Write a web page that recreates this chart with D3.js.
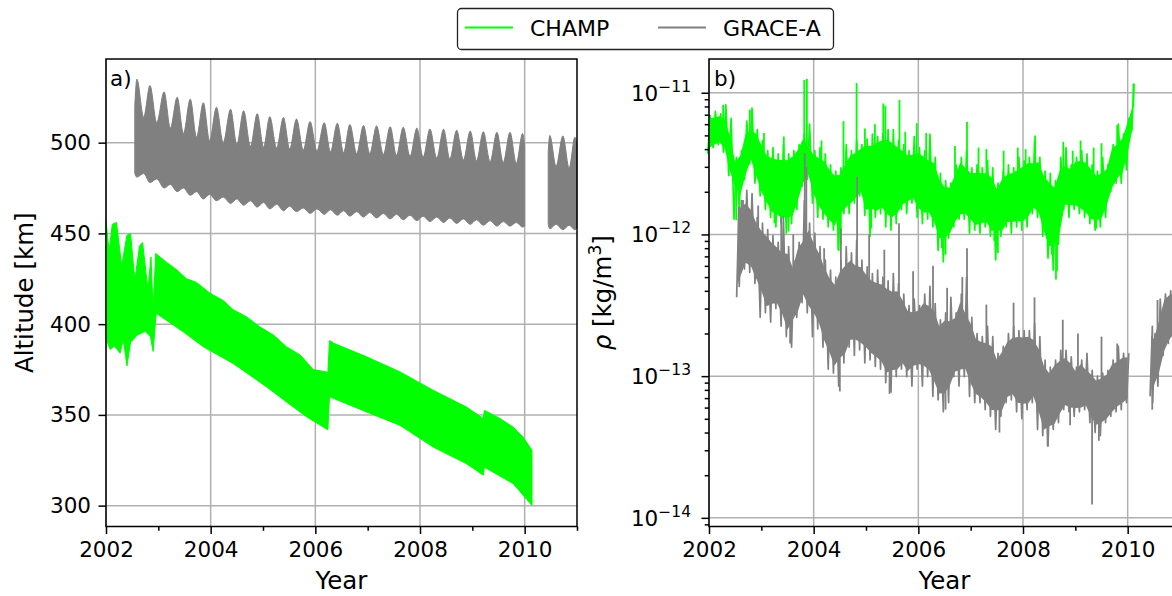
<!DOCTYPE html>
<html>
<head>
<meta charset="utf-8">
<script src="https://cdn.jsdelivr.net/npm/d3@7"></script>
<style>
  html, body { margin: 0; padding: 0; background: #fff; }
  svg { display: block; font-family: "DejaVu Sans", "Liberation Sans", sans-serif; }
</style>
</head>
<body>
<svg id="chart" width="1172" height="596"></svg>
<script>
// ---------------- Series names and colours ----------------
const seriesNames = ["CHAMP", "GRACE-A"];
const seriesColors = ["#00ff00", "#808080"];

// ---------------- Panel a) orbital altitude [km] ----------------
// CHAMP altitude envelope (upper and lower edge of the daily oscillation band)
const champAltUpperYear = [2002.00, 2002.06, 2002.12, 2002.20, 2002.30, 2002.40, 2002.47, 2002.55, 2002.64, 2002.70,
  2002.80, 2002.86, 2002.90, 2002.95, 2003.16, 2003.35, 2003.54, 2003.73, 2003.99, 2004.24, 2004.43, 2004.69,
  2004.94, 2005.20, 2005.45, 2005.71, 2005.96, 2006.24, 2006.27, 2006.35, 2006.98, 2007.62, 2008.25, 2008.89,
  2009.21, 2009.23, 2009.53, 2009.78, 2009.97, 2010.14];
const champAltUpper = [457, 440, 455, 456, 432, 449, 450, 424, 443, 445,
  419, 437, 408, 439, 434, 430, 425, 423, 417, 413, 408, 404,
  398.5, 394, 387.5, 383, 375, 373.5, 391, 389.5, 382, 373.7, 363.6, 354.3,
  348, 352.5, 348, 343.3, 337.8, 330.5];
const champAltLowerYear = [2002.00, 2002.08, 2002.16, 2002.27, 2002.33, 2002.40, 2002.47, 2002.60, 2002.75, 2002.85,
  2002.90, 2002.96, 2003.16, 2003.48, 2003.86, 2004.43, 2005.07, 2005.45, 2005.84, 2006.24, 2006.27, 2006.98,
  2007.62, 2008.25, 2008.89, 2009.21, 2009.23, 2009.78, 2010.14];
const champAltLower = [392, 386, 388, 384, 392, 377, 390, 394, 396, 393,
  385, 406, 402, 395.7, 387.5, 378.3, 365.4, 357.1, 348.8, 341.8, 360, 351.6,
  344.2, 332.3, 323.1, 316.7, 321.2, 312.1, 300.1];

// GRACE-A altitude: crest / trough of the ~93-day beating pattern and lower edge
const graceAltYear = [2002.55, 2002.59, 2002.72, 2002.84, 2002.97, 2003.11, 2003.23, 2003.36, 2003.48, 2003.61,
  2003.73, 2003.86, 2003.98, 2004.11, 2004.24, 2004.38, 2004.50, 2004.63, 2004.76, 2004.89, 2005.01, 2005.13,
  2005.26, 2005.39, 2005.51, 2005.64, 2005.77, 2005.90, 2006.03, 2006.17, 2006.29, 2006.42, 2006.54, 2006.66,
  2006.79, 2006.92, 2007.04, 2007.17, 2007.30, 2007.43, 2007.55, 2007.68, 2007.81, 2007.94, 2008.06, 2008.19,
  2008.32, 2008.45, 2008.57, 2008.70, 2008.83, 2008.96, 2009.08, 2009.21, 2009.34, 2009.47, 2009.59, 2009.72,
  2009.84, 2009.96, 2010.00,
  2010.45, 2010.48, 2010.60, 2010.73, 2010.85, 2010.96, 2011.00];
const graceAltUpper = [520, 535, 514, 531.5, 511, 528, 508, 525, 505, 524,
  503, 522, 501, 519.5, 500, 518.4, 499, 517.6, 498, 516, 497.5, 514.3,
  497, 513.8, 496.5, 513, 496, 511.6, 495.5, 511, 495, 510.7, 494.5, 510,
  494, 509.4, 494, 509.2, 493.5, 508.8, 493, 508.5, 492.5, 508, 492, 507.5,
  491.5, 507.4, 491, 506.8, 490.5, 506.4, 490, 506, 489.5, 505.7, 489, 505.7,
  488.5, 505, 498,
  495, 504, 487, 503.7, 486, 503, 500];
const graceAltLower = [483, 481, 483, 478, 480, 475, 477, 473, 475, 471,
  473, 469, 471.5, 468, 470, 466.5, 469, 465.5, 468, 464.5, 467, 463.5,
  466, 462.5, 465, 462, 464, 461, 463.5, 460.5, 463, 460, 462.5, 459.5,
  462, 459, 461.5, 458.5, 461, 458, 460.5, 457.5, 460, 457, 459.5, 456.5,
  459, 456, 458.5, 455.5, 458, 455, 457.5, 454.5, 457, 454, 456.5, 454,
  456, 453.5, 454,
  455, 452.5, 455, 452, 454.5, 452, 453];

// ---------------- Panel b) neutral density [10^-12 kg/m^3] ----------------
// CHAMP: highest / lowest value in each 0.1-year bin, starting 2002.0
const champRhoStart = 2002.0, champRhoStep = 0.1;
const champRhoHigh = [6.9, 7.4, 7.1, 8.2, 6.6, 3.5, 3.9, 6.3, 7.8, 5.5,
  4.6, 3.9, 4.1, 3.7, 4.3, 3.7, 3.9, 4.3, 5.1, 6.0,
  3.9, 4.1, 3.7, 3.1, 2.8, 2.95, 4.3, 3.9, 4.6, 4.3,
  4.7, 5.1, 4.9, 5.1, 5.5, 5.5, 4.6, 4.3, 3.9, 4.9,
  4.1, 3.9, 5.1, 3.5, 2.7, 2.4, 2.3, 3.1, 3.5, 3.9,
  2.95, 3.1, 2.95, 3.3, 2.95, 2.3, 2.8, 3.1, 2.95, 3.5,
  3.3, 3.5, 4.6, 3.5, 2.8, 2.7, 2.4, 3.5, 4.1, 3.1,
  3.5, 3.9, 3.7, 3.1, 2.8, 3.5, 3.1, 4.3, 6.0, 5.1,
  6.6, 11.6];
const champRhoLow = [3.7, 4.1, 4.3, 3.8, 2.6, 1.28, 1.5, 2.45, 3.15, 2.3,
  1.87, 1.5, 1.32, 1.13, 1.19, 1.02, 1.19, 1.5, 2.17, 2.45,
  1.66, 1.32, 1.28, 1.13, 1.07, 0.77, 1.4, 1.4, 1.66, 1.87,
  1.36, 0.97, 1.32, 1.4, 1.13, 1.07, 1.19, 1.5, 1.4, 1.66,
  1.32, 1.19, 1.28, 1.13, 0.77, 0.64, 0.94, 1.13, 1.28, 1.28,
  1.02, 1.07, 1.02, 1.13, 0.97, 0.66, 0.97, 1.13, 1.02, 1.13,
  1.07, 1.13, 1.4, 1.32, 0.97, 0.68, 0.56, 0.85, 1.5, 1.32,
  1.5, 1.4, 1.32, 1.19, 1.07, 1.13, 1.32, 2.0, 2.3, 2.3,
  2.85, 5.4];
// CHAMP isolated excursions: [year, density]
const champRhoSpikes = [[2002.27, 8.2], [2002.78, 7.6], [2003.05, 5.2], [2003.43, 4.9], [2003.82, 12.3],
  [2003.87, 12.5], [2004.15, 4.6], [2004.57, 6.3], [2004.82, 11.7], [2004.98, 5.6], [2005.17, 6.0],
  [2005.33, 8.4], [2005.37, 8.1], [2005.64, 8.9], [2005.75, 5.3], [2005.97, 6.1], [2006.15, 5.2],
  [2006.70, 4.2], [2006.93, 6.25], [2007.15, 4.1], [2007.30, 4.0], [2007.63, 3.9], [2007.90, 4.1],
  [2008.05, 4.0], [2008.23, 5.0], [2008.77, 4.5], [2008.95, 3.9], [2009.10, 4.6], [2009.35, 4.1],
  [2009.50, 4.4], [2009.80, 5.9], [2010.11, 11.6],
  [2002.52, 1.26], [2003.25, 1.2], [2003.52, 1.05], [2004.47, 0.78], [2004.52, 0.85], [2005.10, 1.1],
  [2006.45, 0.8], [2006.52, 0.72], [2007.45, 0.9], [2007.52, 0.74], [2008.55, 0.72], [2008.63, 0.48],
  [2008.65, 0.55], [2009.40, 1.1]];

// GRACE-A: highest / lowest value in each bin, with the bin's year
const graceRhoYear = [2002.55, 2002.6, 2002.7, 2002.8, 2002.9, 2003.0, 2003.1, 2003.2, 2003.3, 2003.4,
  2003.5, 2003.6, 2003.7, 2003.8, 2003.9, 2004.0, 2004.1, 2004.2, 2004.3, 2004.4,
  2004.5, 2004.6, 2004.7, 2004.8, 2004.9, 2005.0, 2005.1, 2005.2, 2005.3, 2005.4,
  2005.5, 2005.6, 2005.7, 2005.8, 2005.9, 2006.0, 2006.1, 2006.2, 2006.3, 2006.4,
  2006.5, 2006.6, 2006.7, 2006.8, 2006.9, 2007.0, 2007.1, 2007.2, 2007.3, 2007.4,
  2007.5, 2007.6, 2007.7, 2007.8, 2007.9, 2008.0, 2008.1, 2008.2, 2008.3, 2008.4,
  2008.5, 2008.6, 2008.7, 2008.8, 2008.9, 2009.0, 2009.1, 2009.2, 2009.3, 2009.4,
  2009.5, 2009.6, 2009.7, 2009.8, 2009.9, 2010.0,
  2010.45, 2010.5, 2010.6, 2010.7, 2010.8, 2010.9, 2011.0];
const graceRhoHigh = [1.56, 1.73, 2.05, 1.94, 1.32, 1.2, 1.08, 0.98, 0.88, 1.32,
  0.82, 0.65, 0.88, 1.73, 1.2, 1.02, 0.82, 0.66, 0.56, 0.5,
  0.66, 0.82, 0.74, 0.91, 0.66, 0.59, 0.53, 0.56, 0.5, 0.47,
  0.53, 0.45, 0.38, 0.315, 0.35, 0.315, 0.38, 0.43, 0.325, 0.25,
  0.28, 0.36, 0.28, 0.38, 0.5, 0.26, 0.2, 0.19, 0.225, 0.19,
  0.145, 0.162, 0.2, 0.225, 0.21, 0.21, 0.21, 0.236, 0.19, 0.13,
  0.116, 0.13, 0.152, 0.152, 0.137, 0.116, 0.13, 0.145, 0.11, 0.1,
  0.105, 0.11, 0.13, 0.162, 0.145, 0.145,
  0.225, 0.2, 0.35, 0.38, 0.4, 0.42, 0.42];
const graceRhoLow = [0.36, 0.43, 0.57, 0.54, 0.45, 0.26, 0.28, 0.24, 0.30, 0.225,
  0.19, 0.16, 0.26, 0.33, 0.28, 0.19, 0.215, 0.16, 0.112, 0.105,
  0.085, 0.124, 0.16, 0.14, 0.153, 0.124, 0.13, 0.117, 0.112, 0.09,
  0.077, 0.099, 0.112, 0.099, 0.085, 0.112, 0.085, 0.099, 0.072, 0.068,
  0.056, 0.065, 0.099, 0.085, 0.099, 0.072, 0.065, 0.065, 0.058, 0.052,
  0.042, 0.052, 0.065, 0.068, 0.056, 0.05, 0.058, 0.065, 0.042, 0.038,
  0.032, 0.042, 0.047, 0.058, 0.056, 0.052, 0.056, 0.058, 0.047, 0.04,
  0.038, 0.047, 0.052, 0.056, 0.058, 0.065,
  0.072, 0.065, 0.085, 0.14, 0.17, 0.19, 0.19];
const graceRhoSpikes = [[2002.65, 1.75], [2002.94, 1.6], [2003.38, 1.33], [2003.61, 1.0], [2003.83, 3.75],
  [2003.86, 3.0], [2004.20, 0.8], [2004.52, 1.1], [2004.83, 2.55], [2005.06, 1.0], [2005.35, 0.78],
  [2005.63, 1.2], [2005.90, 0.55], [2006.28, 0.6], [2006.55, 0.42], [2006.84, 0.5], [2006.93, 0.8],
  [2007.30, 0.32], [2007.82, 0.33], [2008.22, 0.36], [2008.76, 0.25], [2009.05, 0.2], [2009.50, 0.19],
  [2009.80, 0.17], [2010.57, 0.345],
  [2003.55, 0.17], [2004.50, 0.078], [2005.45, 0.075], [2006.52, 0.058], [2007.55, 0.04], [2008.47, 0.032],
  [2008.90, 0.045], [2009.32, 0.0124], [2009.45, 0.035], [2010.47, 0.058]];
const rhoUnit = 1e-12; // density arrays are in units of 10^-12 kg/m^3

// ---------------- Axis ticks ----------------
const yearTicks = [2002, 2004, 2006, 2008, 2010];
const yearMinorTicks = [2003, 2005, 2007, 2009, 2011];
const altTicks = [300, 350, 400, 450, 500];
const rhoExponents = [-14, -13, -12, -11];

// ---------------- Layout ----------------
const svg = d3.select("#chart");
const plotTop = 59, plotBottom = 526.5;
const fontTick = 21.5, fontLabel = 24.5, fontLegend = 22;
const gridColor = "#b0b0b0";

const xA = d3.scaleLinear().domain([2002, 2011]).range([106, 577]);
const yA = d3.scaleLinear().domain([288.5, 546.1]).range([plotBottom, plotTop]);
const xB = d3.scaleLinear().domain([2002, 2011]).range([709, 1180]);
const yB = d3.scaleLog().domain([Math.pow(10, -14.061), Math.pow(10, -10.762)]).range([plotBottom, plotTop]);

function splitSegments(points, maxGap) {
  const segs = [];
  let cur = [];
  points.forEach((p, i) => {
    if (i > 0 && p.t - points[i - 1].t > maxGap) { segs.push(cur); cur = []; }
    cur.push(p);
  });
  if (cur.length) segs.push(cur);
  return segs;
}

function drawGrid(g, x, y, yVals) {
  g.selectAll(".vgrid").data(yearTicks).join("line")
    .attr("x1", d => x(d)).attr("x2", d => x(d))
    .attr("y1", plotTop).attr("y2", plotBottom)
    .attr("stroke", gridColor).attr("stroke-width", 1.5);
  g.selectAll(".hgrid").data(yVals).join("line")
    .attr("x1", x.range()[0]).attr("x2", x.range()[1])
    .attr("y1", d => y(d)).attr("y2", d => y(d))
    .attr("stroke", gridColor).attr("stroke-width", 1.5);
}

function styleAxis(g) {
  g.select(".domain").remove();
  g.attr("font-family", null).attr("font-size", null);
  g.selectAll("line").attr("stroke", "#000").attr("stroke-width", 1.5);
  g.selectAll("text").attr("fill", "#000").attr("font-size", fontTick);
}

function drawXAxis(g, x) {
  const ax = g.append("g").attr("transform", `translate(0,${plotBottom})`)
    .call(d3.axisBottom(x).tickValues(yearTicks).tickSize(7.5).tickPadding(7.5).tickFormat(d3.format("d")));
  styleAxis(ax);
  const mi = g.append("g").attr("transform", `translate(0,${plotBottom})`)
    .call(d3.axisBottom(x).tickValues(yearMinorTicks).tickSize(4.3).tickFormat(""));
  styleAxis(mi);
  g.append("text").attr("x", (x.range()[0] + x.range()[1]) / 2).attr("y", 589)
    .attr("text-anchor", "middle").attr("font-size", fontLabel).text("Year");
}

function drawFrame(g, x) {
  g.append("rect").attr("x", x.range()[0]).attr("y", plotTop)
    .attr("width", x.range()[1] - x.range()[0]).attr("height", plotBottom - plotTop)
    .attr("fill", "none").attr("stroke", "#000").attr("stroke-width", 1.5);
}

// ================= Panel a) =================
const gA = svg.append("g");
drawGrid(gA, xA, yA, altTicks);

// CHAMP altitude band
{
  const line = d3.line().x(d => xA(d[0])).y(d => yA(d[1]));
  const up = champAltUpperYear.map((t, i) => [t, champAltUpper[i]]);
  const lo = champAltLowerYear.map((t, i) => [t, champAltLower[i]]).reverse();
  const path = line(up) + "L" + line(lo).slice(1) + "Z";
  gA.append("path").attr("d", path)
    .attr("fill", seriesColors[0]).attr("stroke", seriesColors[0]).attr("stroke-width", 1);
}
// GRACE-A altitude band
{
  const pts = graceAltYear.map((t, i) => ({ t, hi: graceAltUpper[i], lo: graceAltLower[i] }));
  const area = d3.area().curve(d3.curveMonotoneX)
    .x(d => xA(d.t)).y0(d => yA(d.lo)).y1(d => yA(d.hi));
  splitSegments(pts, 0.3).forEach(seg => {
    gA.append("path").attr("d", area(seg))
      .attr("fill", seriesColors[1]).attr("stroke", seriesColors[1]).attr("stroke-width", 1);
  });
}

// left axis
{
  const ax = gA.append("g").attr("transform", `translate(${xA.range()[0]},0)`)
    .call(d3.axisLeft(yA).tickValues(altTicks).tickSize(7.5).tickPadding(7.5).tickFormat(d3.format("d")));
  styleAxis(ax);
  gA.append("text").attr("transform", `translate(33,${(plotTop + plotBottom) / 2}) rotate(-90)`)
    .attr("text-anchor", "middle").attr("font-size", fontLabel).text("Altitude [km]");
}
drawXAxis(gA, xA);
drawFrame(gA, xA);
gA.append("text").attr("x", 110).attr("y", 86).attr("font-size", fontTick).text("a)");

// ================= Panel b) =================
const gB = svg.append("g");
drawGrid(gB, xB, yB, rhoExponents.map(e => Math.pow(10, e)));

// Dense daily series rendered by min/max decimation: a solid core slightly inside
// each bin's extremes, plus a zig-zag trace that visits each bin's low and high.
function drawRho(times, hi, lo, spikes, color) {
  const pts = times.map((t, i) => ({ t, hi: hi[i] * rhoUnit, lo: lo[i] * rhoUnit }));
  const halfBin = 0.022;
  splitSegments(pts, 0.3).forEach(seg => {
    const core = seg.map((d, i) => {
      const p = seg[Math.max(0, i - 1)], n = seg[Math.min(seg.length - 1, i + 1)];
      const H = Math.log10(d.hi), L = Math.log10(d.lo);
      const nH = (Math.log10(p.hi) + Math.log10(n.hi)) / 2;
      const nL = (Math.log10(p.lo) + Math.log10(n.lo)) / 2;
      let ch = Math.min(H, nH) - 0.08 * (H - L);
      let cl = Math.max(L, nL) + 0.08 * (H - L);
      if (cl > ch) { const m = (cl + ch) / 2; cl = m; ch = m; }
      return { t: d.t, hi: Math.pow(10, ch), lo: Math.pow(10, cl) };
    });
    const area = d3.area().x(d => xB(d.t)).y0(d => yB(d.lo)).y1(d => yB(d.hi));
    gB.append("path").attr("d", area(core)).attr("fill", color);

    const trace = [];
    seg.forEach(d => {
      trace.push([d.t - halfBin, d.lo]);
      trace.push([d.t + halfBin, d.hi]);
    });
    const line = d3.line().x(d => xB(d[0])).y(d => yB(d[1]));
    gB.append("path").attr("d", line(trace))
      .attr("fill", "none").attr("stroke", color).attr("stroke-width", 1.7)
      .attr("stroke-linejoin", "round");
  });
  // excursions drawn from the band centre out to the recorded value
  const mid = t => {
    const i = d3.bisector(d => d.t).left(pts, t);
    const a = pts[Math.max(0, i - 1)], b = pts[Math.min(pts.length - 1, i)];
    const f = b.t === a.t ? 0 : (t - a.t) / (b.t - a.t);
    const ma = Math.sqrt(a.hi * a.lo), mb = Math.sqrt(b.hi * b.lo);
    return Math.exp(Math.log(ma) + f * (Math.log(mb) - Math.log(ma)));
  };
  gB.append("g").selectAll("line").data(spikes).join("line")
    .attr("x1", d => xB(d[0])).attr("x2", d => xB(d[0]))
    .attr("y1", d => yB(mid(d[0]))).attr("y2", d => yB(d[1] * rhoUnit))
    .attr("stroke", color).attr("stroke-width", 1.8);
}
drawRho(champRhoHigh.map((_, i) => champRhoStart + i * champRhoStep), champRhoHigh, champRhoLow,
  champRhoSpikes, seriesColors[0]);
drawRho(graceRhoYear, graceRhoHigh, graceRhoLow, graceRhoSpikes, seriesColors[1]);

// log y axis: majors with 10^n labels, minors at 2..9
{
  const x0 = xB.range()[0];
  const majors = rhoExponents.map(e => Math.pow(10, e));
  const minors = [];
  [-15, -14, -13, -12, -11].forEach(e => {
    for (let m = 2; m <= 9; m++) {
      const v = m * Math.pow(10, e);
      if (v >= yB.domain()[0] && v <= yB.domain()[1]) minors.push(v);
    }
  });
  const ax = gB.append("g").attr("transform", `translate(${x0},0)`)
    .call(d3.axisLeft(yB).tickValues(majors).tickSize(7.5).tickFormat(""));
  styleAxis(ax);
  const mi = gB.append("g").attr("transform", `translate(${x0},0)`)
    .call(d3.axisLeft(yB).tickValues(minors).tickSize(4.3).tickFormat(""));
  styleAxis(mi);
  rhoExponents.forEach(e => {
    const t = gB.append("text").attr("x", x0 - 18).attr("y", yB(Math.pow(10, e)) + 8)
      .attr("text-anchor", "end").attr("font-size", fontTick);
    t.append("tspan").text("10");
    t.append("tspan").attr("dy", -9).attr("font-size", 15.5).text("\u2212" + Math.abs(e));
  });
  const lbl = gB.append("text").attr("transform", `translate(611,${(plotTop + plotBottom) / 2}) rotate(-90)`)
    .attr("text-anchor", "middle").attr("font-size", fontLabel);
  lbl.append("tspan").attr("font-style", "italic").text("\u03c1");
  lbl.append("tspan").text(" [kg/m");
  lbl.append("tspan").attr("dy", -10).attr("font-size", 17).text("3");
  lbl.append("tspan").attr("dy", 10).text("]");
}
drawXAxis(gB, xB);
drawFrame(gB, xB);
gB.append("text").attr("x", 714).attr("y", 86).attr("font-size", fontTick).text("b)");

// ================= Legend =================
{
  const lg = svg.append("g");
  lg.append("rect").attr("x", 457.5).attr("y", 8.5).attr("width", 376).attr("height", 41).attr("rx", 4)
    .attr("fill", "#fff").attr("stroke", "#222").attr("stroke-width", 1.3);
  const itemX = [465, 658];
  seriesNames.forEach((name, i) => {
    lg.append("line").attr("x1", itemX[i]).attr("x2", itemX[i] + 48).attr("y1", 27.5).attr("y2", 27.5)
      .attr("stroke", seriesColors[i]).attr("stroke-width", 2);
    lg.append("text").attr("x", itemX[i] + 65).attr("y", 35.5).attr("font-size", fontLegend).text(name);
  });
}
</script>
</body>
</html>
